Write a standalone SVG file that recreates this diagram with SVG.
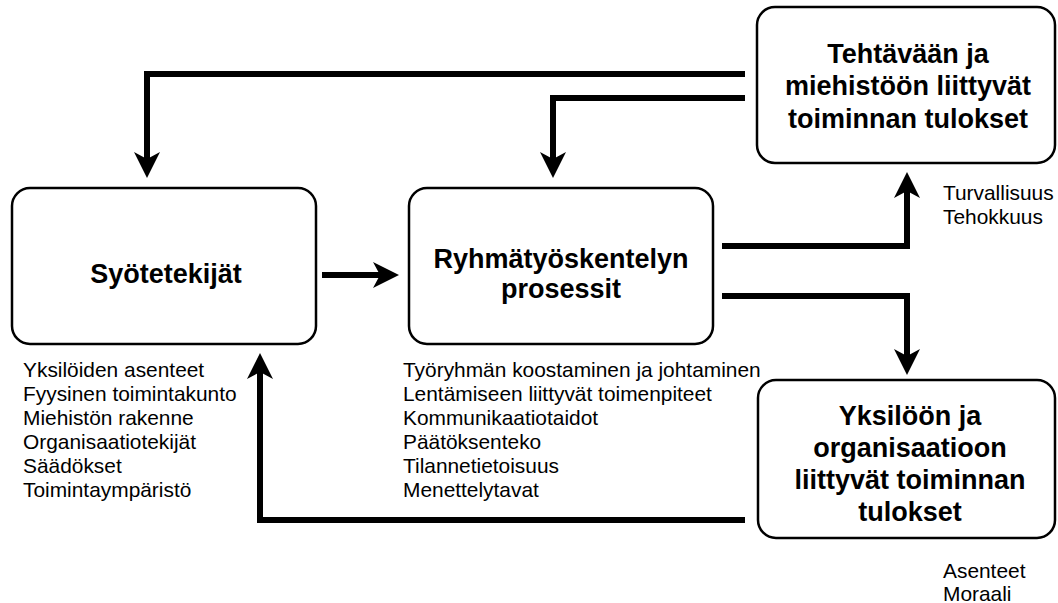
<svg xmlns="http://www.w3.org/2000/svg" width="1058" height="603" viewBox="0 0 1058 603">
<style>
.box{fill:#fff;stroke:#000;stroke-width:2.5}
.title{font-family:"Liberation Sans",Arial,sans-serif;font-weight:bold;font-size:27px;fill:#000;text-anchor:middle}
.lbl{font-family:"Liberation Sans",Arial,sans-serif;font-size:20.9px;fill:#000}
.conn{fill:none;stroke:#000;stroke-width:6;stroke-linejoin:miter;stroke-linecap:butt}
</style>
<defs>
<marker id="ah" markerUnits="userSpaceOnUse" markerWidth="30" markerHeight="30" viewBox="0 -15 30 30" refX="8" refY="0" orient="auto">
<path d="M0,-13 L26,0 L0,13 L7,0 Z" fill="#000"/>
</marker>
</defs>
<rect width="1058" height="603" fill="#fff"/>
<g id="connectors">
<path class="conn" d="M322,275 H381" marker-end="url(#ah)"/>
<path class="conn" d="M745,74 H147 V160" marker-end="url(#ah)"/>
<path class="conn" d="M745,98 H553 V160" marker-end="url(#ah)"/>
<path class="conn" d="M722,246 H907 V190" marker-end="url(#ah)"/>
<path class="conn" d="M722,296 H907 V357" marker-end="url(#ah)"/>
<path class="conn" d="M745,520 H260 V371" marker-end="url(#ah)"/>
</g>
<g id="syotetekijat">
<rect class="box" x="12" y="188" width="304" height="156" rx="18"/>
<text class="title" x="166" y="283">Syötetekijät</text>
<text class="lbl" x="23" y="377">Yksilöiden asenteet</text>
<text class="lbl" x="23" y="401">Fyysinen toimintakunto</text>
<text class="lbl" x="23" y="425">Miehistön rakenne</text>
<text class="lbl" x="23" y="449">Organisaatiotekijät</text>
<text class="lbl" x="23" y="473">Säädökset</text>
<text class="lbl" x="23" y="497">Toimintaympäristö</text>
</g>
<g id="prosessit">
<rect class="box" x="409" y="188" width="304" height="156" rx="18"/>
<text class="title" x="561" y="268">Ryhmätyöskentelyn</text>
<text class="title" x="561" y="298">prosessit</text>
<text class="lbl" x="403" y="377">Työryhmän koostaminen ja johtaminen</text>
<text class="lbl" x="403" y="401">Lentämiseen liittyvät toimenpiteet</text>
<text class="lbl" x="403" y="425">Kommunikaatiotaidot</text>
<text class="lbl" x="403" y="449">Päätöksenteko</text>
<text class="lbl" x="403" y="473">Tilannetietoisuus</text>
<text class="lbl" x="403" y="497">Menettelytavat</text>
</g>
<g id="tehtava">
<rect class="box" x="757" y="7" width="298" height="156" rx="18"/>
<text class="title" x="908" y="63">Tehtävään ja</text>
<text class="title" x="908" y="95">miehistöön liittyvät</text>
<text class="title" x="908" y="128">toiminnan tulokset</text>
<text class="lbl" x="943" y="200">Turvallisuus</text>
<text class="lbl" x="943" y="224">Tehokkuus</text>
</g>
<g id="yksilo">
<rect class="box" x="758" y="380" width="297" height="158" rx="18"/>
<text class="title" x="910" y="425">Yksilöön ja</text>
<text class="title" x="910" y="457">organisaatioon</text>
<text class="title" x="910" y="489">liittyvät toiminnan</text>
<text class="title" x="910" y="521">tulokset</text>
<text class="lbl" x="943" y="578">Asenteet</text>
<text class="lbl" x="943" y="601">Moraali</text>
</g>
</svg>
